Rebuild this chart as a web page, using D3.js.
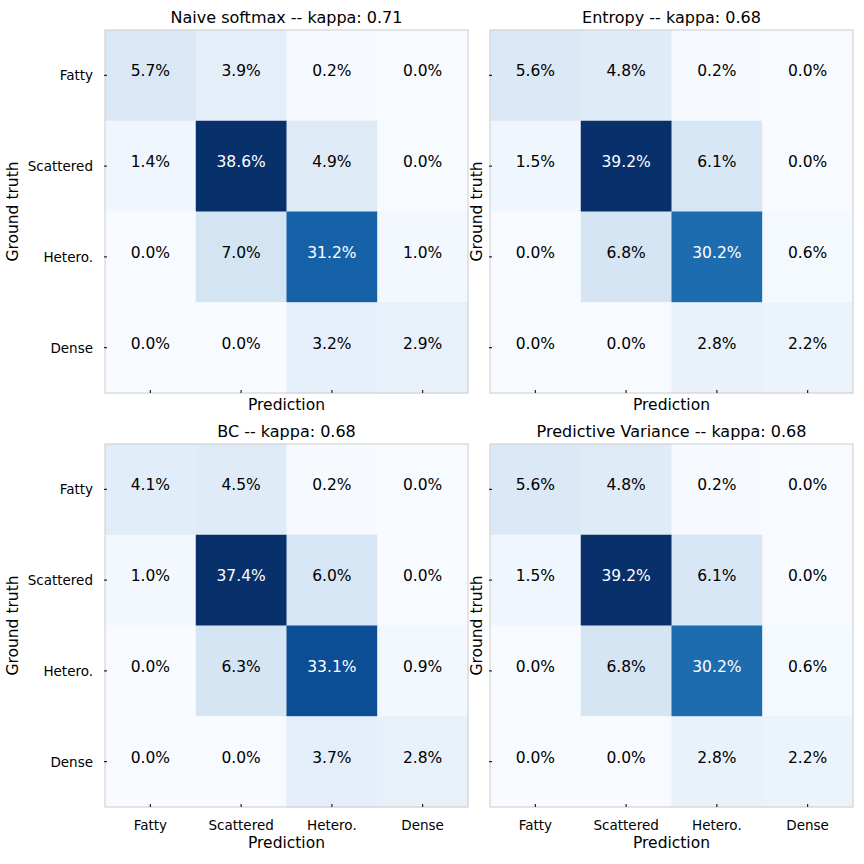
<!DOCTYPE html>
<html>
<head>
<meta charset="utf-8">
<script src="https://cdn.jsdelivr.net/npm/d3@7"></script>
<style>
  body { margin: 0; background: #fff; }
  text { font-family: "DejaVu Sans", sans-serif; fill: #000; }
</style>
</head>
<body>
<svg id="chart" width="864" height="864"></svg>
<script>
// classes (rows = ground truth, cols = prediction)
var categories = ["Fatty", "Scattered", "Hetero.", "Dense"];

var titles = ["Naive softmax -- kappa: 0.71", "Entropy -- kappa: 0.68",
              "BC -- kappa: 0.68", "Predictive Variance -- kappa: 0.68"];

// percentages
var naiveSoftmax = [[5.7, 3.9, 0.2, 0.0],
                    [1.4, 38.6, 4.9, 0.0],
                    [0.0, 7.0, 31.2, 1.0],
                    [0.0, 0.0, 3.2, 2.9]];
var entropy = [[5.6, 4.8, 0.2, 0.0],
               [1.5, 39.2, 6.1, 0.0],
               [0.0, 6.8, 30.2, 0.6],
               [0.0, 0.0, 2.8, 2.2]];
var bc = [[4.1, 4.5, 0.2, 0.0],
          [1.0, 37.4, 6.0, 0.0],
          [0.0, 6.3, 33.1, 0.9],
          [0.0, 0.0, 3.7, 2.8]];
var predVariance = [[5.6, 4.8, 0.2, 0.0],
                    [1.5, 39.2, 6.1, 0.0],
                    [0.0, 6.8, 30.2, 0.6],
                    [0.0, 0.0, 2.8, 2.2]];

var matrices = [naiveSoftmax, entropy, bc, predVariance];

var svg = d3.select("#chart");
var size = 363;
var panels = [
  {x: 105, y: 30, yTicks: true, xTicks: false},
  {x: 490, y: 30, yTicks: false, xTicks: false},
  {x: 105, y: 444, yTicks: true, xTicks: true},
  {x: 490, y: 444, yTicks: false, xTicks: true}
];

function lum(c) { // relative luminance, used to pick text colour
  var rgb = d3.rgb(c);
  var f = function(v) { v = v / 255; return v <= 0.03928 ? v / 12.92 : Math.pow((v + 0.055) / 1.055, 2.4); };
  return 0.2126 * f(rgb.r) + 0.7152 * f(rgb.g) + 0.0722 * f(rgb.b);
}

panels.forEach(function(p, k) {
  var m = matrices[k];
  var cells = [];
  m.forEach(function(row, i) { row.forEach(function(v, j) { cells.push({r: categories[i], c: categories[j], v: v}); }); });

  var x = d3.scaleBand().domain(categories).range([0, size]);
  var y = d3.scaleBand().domain(categories).range([0, size]);
  var color = d3.scaleSequential(d3.interpolateBlues).domain([0, d3.max(cells, d => d.v)]);

  var g = svg.append("g").attr("transform", "translate(" + p.x + "," + p.y + ")");

  g.selectAll("rect.cell")
    .data(cells)
    .enter().append("rect")
    .attr("class", "cell")
    .attr("x", d => x(d.c))
    .attr("y", d => y(d.r))
    .attr("width", x.bandwidth() + 0.5)
    .attr("height", y.bandwidth() + 0.5)
    .attr("fill", d => color(d.v));

  g.selectAll("text.val")
    .data(cells)
    .enter().append("text")
    .attr("class", "val")
    .attr("x", d => x(d.c) + x.bandwidth() / 2)
    .attr("y", d => y(d.r) + y.bandwidth() / 2 - 4)
    .attr("text-anchor", "middle")
    .attr("dominant-baseline", "central")
    .attr("font-size", "15.5px")
    .style("fill", d => lum(color(d.v)) > 0.408 ? "#000" : "#fff")
    .text(d => d.v.toFixed(1) + "%");

  // frame
  g.append("rect")
    .attr("width", size).attr("height", size)
    .attr("fill", "none").attr("stroke", "#cccccc").attr("stroke-width", 1);

  // tiny ticks
  g.selectAll("line.xt").data(categories).enter().append("line")
    .attr("x1", d => x(d) + x.bandwidth() / 2).attr("x2", d => x(d) + x.bandwidth() / 2)
    .attr("y1", size - 3).attr("y2", size)
    .attr("stroke", "#222").attr("stroke-width", 1.2);
  g.selectAll("line.yt").data(categories).enter().append("line")
    .attr("y1", d => y(d) + y.bandwidth() / 2).attr("y2", d => y(d) + y.bandwidth() / 2)
    .attr("x1", -1).attr("x2", 2)
    .attr("stroke", "#222").attr("stroke-width", 1.2);

  if (p.yTicks) {
    g.selectAll("text.yl").data(categories).enter().append("text")
      .attr("x", -12)
      .attr("y", d => y(d) + y.bandwidth() / 2)
      .attr("text-anchor", "end")
      .attr("dominant-baseline", "central")
      .attr("font-size", "13.5px")
      .text(d => d);
  }
  if (p.xTicks) {
    g.selectAll("text.xl").data(categories).enter().append("text")
      .attr("x", d => x(d) + x.bandwidth() / 2)
      .attr("y", size + 18)
      .attr("text-anchor", "middle")
      .attr("dominant-baseline", "central")
      .attr("font-size", "13.5px")
      .text(d => d);
  }

  g.append("text")
    .attr("x", size / 2).attr("y", -7)
    .attr("text-anchor", "middle")
    .attr("font-size", "16px")
    .text(titles[k]);

  g.append("text")
    .attr("x", size / 2).attr("y", p.xTicks ? size + 41 : size + 17)
    .attr("text-anchor", "middle")
    .attr("font-size", "15.5px")
    .text("Prediction");

  g.append("text")
    .attr("transform", "translate(" + (p.yTicks ? -87 : -8) + "," + (size / 2) + ") rotate(-90)")
    .attr("text-anchor", "middle")
    .attr("font-size", "15.5px")
    .text("Ground truth");
});
</script>
</body>
</html>
